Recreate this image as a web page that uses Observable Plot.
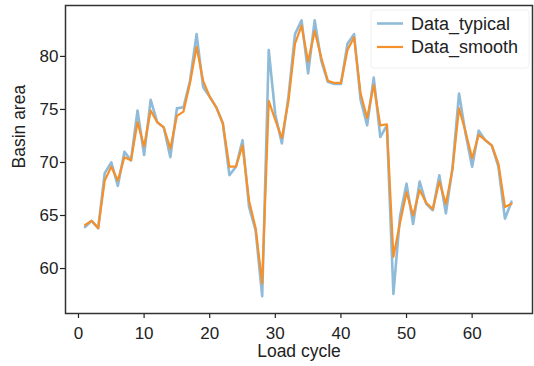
<!DOCTYPE html>
<html>
<head>
<meta charset="utf-8">
<script src="https://cdn.jsdelivr.net/npm/d3@7"></script>
<script src="https://cdn.jsdelivr.net/npm/@observablehq/plot@0.6"></script>
<style>
  html, body { margin: 0; padding: 0; background: #fff; }
  svg { font-family: "Liberation Sans", Arial, sans-serif; }
</style>
</head>
<body>
<div id="chart"></div>
<script>
const cycles = Array.from({length: 66}, (_, i) => i + 1);
const typical = [63.9, 64.5, 63.8, 69.0, 70.0, 67.8, 71.0, 70.2, 74.9, 70.7, 75.9, 73.8, 73.3, 70.5, 75.1, 75.2, 77.7, 82.1, 77.1, 76.2, 75.2, 73.7, 68.8, 69.6, 72.1, 65.8, 63.6, 57.4, 80.6, 74.5, 71.8, 76.2, 82.1, 83.4, 78.4, 83.4, 79.6, 77.6, 77.4, 77.4, 81.2, 82.1, 75.9, 73.5, 78.0, 72.4, 73.5, 57.6, 64.9, 68.0, 64.2, 68.2, 66.1, 65.5, 68.8, 65.2, 69.5, 76.5, 72.7, 69.6, 73.0, 72.1, 71.6, 69.6, 64.7, 66.3];
const smooth  = [64.1, 64.5, 63.8, 68.3, 69.6, 68.3, 70.5, 70.2, 73.8, 71.5, 74.9, 73.8, 73.3, 71.3, 74.4, 74.8, 77.5, 80.9, 77.7, 76.2, 75.2, 73.7, 69.6, 69.6, 71.6, 66.4, 63.8, 58.6, 75.8, 74.0, 72.3, 75.8, 81.2, 82.9, 79.5, 82.4, 79.9, 77.7, 77.5, 77.5, 80.6, 81.8, 76.5, 74.2, 77.3, 73.5, 73.6, 61.1, 64.3, 67.2, 65.0, 67.4, 66.2, 65.6, 68.2, 66.1, 69.3, 75.1, 72.9, 70.4, 72.6, 72.1, 71.6, 69.9, 65.8, 66.1];
const xTicks = [0, 10, 20, 30, 40, 50, 60];
const yTicks = [60, 65, 70, 75, 80];
const seriesNames = ["Data_typical", "Data_smooth"];
const seriesColors = ["#8fbbd9", "#f5902a"];

const rows = cycles.map((c, i) => ({cycle: c, typical: typical[i], smooth: smooth[i]}));

const plot = Plot.plot({
  width: 534,
  height: 366,
  marginLeft: 65,
  marginRight: 2,
  marginTop: 5,
  marginBottom: 53,
  style: {fontFamily: '"Liberation Sans", Arial, sans-serif', fontSize: "17px", color: "#222", background: "#fff"},
  x: {domain: [-1.98, 69.2]},
  y: {domain: [55.76, 84.8]},
  marks: [
    Plot.line(rows, {x: "cycle", y: "typical", stroke: seriesColors[0], strokeWidth: 2.6}),
    Plot.line(rows, {x: "cycle", y: "smooth", stroke: seriesColors[1], strokeWidth: 2.2}),
    Plot.axisX({ticks: xTicks, tickSize: 5, tickPadding: 8, label: null, stroke: "#222", fill: "#222", strokeWidth: 1.2}),
    Plot.axisY({ticks: yTicks, tickSize: 5, tickPadding: 2, label: null, stroke: "#222", fill: "#222", strokeWidth: 1.2}),
    Plot.text(["Load cycle"], {frameAnchor: "bottom", dy: 38, fontSize: 17.5, fill: "#222", lineAnchor: "middle"}),
    Plot.text(["Basin area"], {frameAnchor: "left", dx: -46, dy: 9, rotate: -90, fontSize: 17.5, fill: "#222", lineAnchor: "middle"}),
    Plot.frame({stroke: "#333", strokeWidth: 1.5})
  ]
});
document.getElementById("chart").appendChild(plot);

// legend inside the axes (upper right)
const svg = d3.select(plot);
const lg = svg.append("g").attr("text-anchor", "start");
lg.append("rect").attr("x", 371).attr("y", 10).attr("width", 158).attr("height", 58)
  .attr("fill", "#fff").attr("fill-opacity", 0.85).attr("stroke", "#f0f0f0").attr("rx", 3);
seriesNames.forEach((name, i) => {
  const y = 23.5 + i * 23.5;
  lg.append("line").attr("x1", 377).attr("x2", 403).attr("y1", y).attr("y2", y)
    .attr("stroke", seriesColors[i]).attr("stroke-width", i === 0 ? 2.6 : 2.2);
  lg.append("text").attr("x", 411).attr("y", y).attr("dy", "0.35em")
    .attr("text-anchor", "start").attr("font-size", 18).attr("fill", "#222").text(name);
});
</script>
</body>
</html>
